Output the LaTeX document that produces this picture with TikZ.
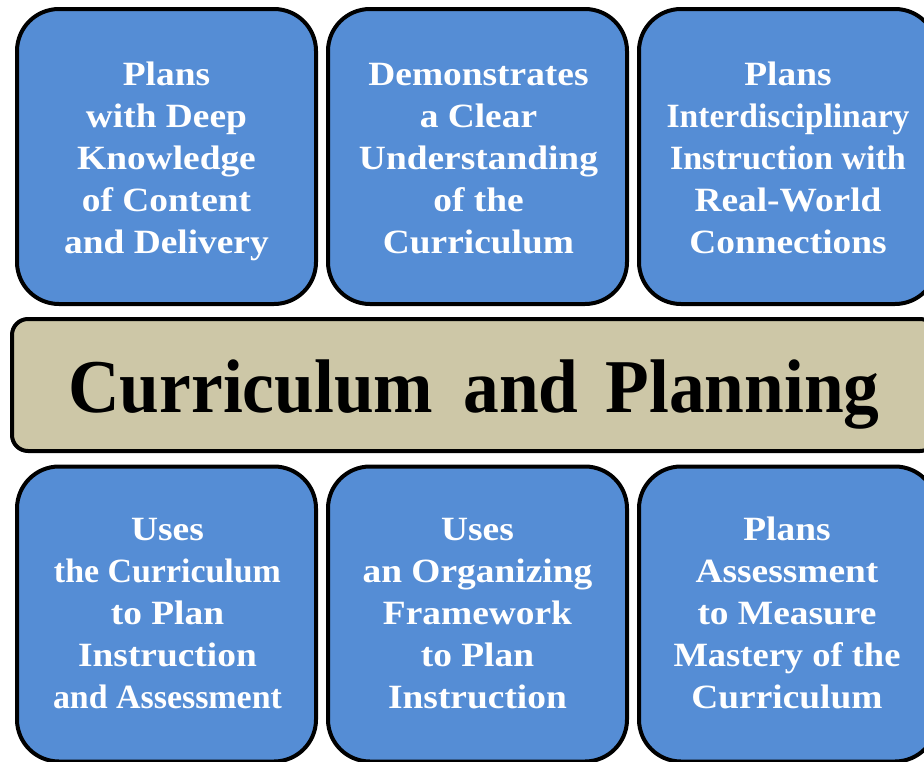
\documentclass[tikz,border=0pt]{standalone}
\usepackage{fontspec}
\usepackage{graphicx}
\newfontfamily\boxfont{Liberation Serif}[FakeStretch=1.1]
\newfontfamily\titlefont{Liberation Serif}[FakeStretch=0.94]
\definecolor{boxblue}{RGB}{85,141,213}
\definecolor{bannertan}{RGB}{205,199,167}
\newcommand{\fitw}[2]{\resizebox{#1}{\height}{#2}}
\begin{document}
\begin{tikzpicture}[x=1pt,y=-1pt,
  card/.style={draw=black, line width=4pt, fill=boxblue, rounded corners=42pt,
    minimum width=299pt, minimum height=295pt, inner sep=0pt},
  cardtext/.style={inner sep=0pt, align=center, text=white,
    font=\boxfont\bfseries\fontsize{34}{42}\selectfont},
  banner/.style={draw=black, line width=4pt, fill=bannertan, rounded corners=16pt,
    minimum width=924pt, minimum height=132pt, inner sep=0pt},
  titletext/.style={anchor=base, inner sep=0pt, text=black,
    font=\titlefont\bfseries\fontsize{76}{80}\selectfont}]
\useasboundingbox (0,0) rectangle (924,761);
\fill[white] (0,0) rectangle (924,761);
\clip (0,0) rectangle (924,761);
% top row
\node[card] (b1) at (166.5,156.5) {};
\node[card] (b2) at (477.5,156.5) {};
\node[card, minimum width=298pt] (b3) at (788,156.5) {};
\node[cardtext] (t1) at (166.5,161.5) {\strut Plans\\with Deep\\Knowledge\\of Content\\and Delivery\strut};
\node[cardtext] (t2) at (478.5,161.5) {\strut Demonstrates\\a Clear\\Understanding\\of the\\Curriculum\strut};
\node[cardtext] (t3) at (788,161.5) {\strut Plans\\\fitw{243pt}{Interdisciplinary}\\\fitw{236pt}{Instruction with}\\Real-World\\Connections\strut};
% banner
\node[banner] (ban) at (474,385) {};
\node[titletext] (title) at (474,412) {Curriculum\hspace{30pt}and\hspace{27pt}Planning};
% bottom row
\node[card] (b4) at (166.5,614) {};
\node[card] (b5) at (477.5,614) {};
\node[card, minimum width=298pt] (b6) at (788,614) {};
\node[cardtext] (t4) at (167.5,616.5) {\strut Uses\\\fitw{227pt}{the Curriculum}\\to Plan\\Instruction\\\fitw{229pt}{and Assessment}\strut};
\node[cardtext] (t5) at (477.5,616.5) {\strut Uses\\an Organizing\\Framework\\to Plan\\Instruction\strut};
\node[cardtext] (t6) at (787,616.5) {\strut Plans\\Assessment\\to Measure\\\fitw{227pt}{Mastery of the}\\Curriculum\strut};
\end{tikzpicture}
\end{document}
